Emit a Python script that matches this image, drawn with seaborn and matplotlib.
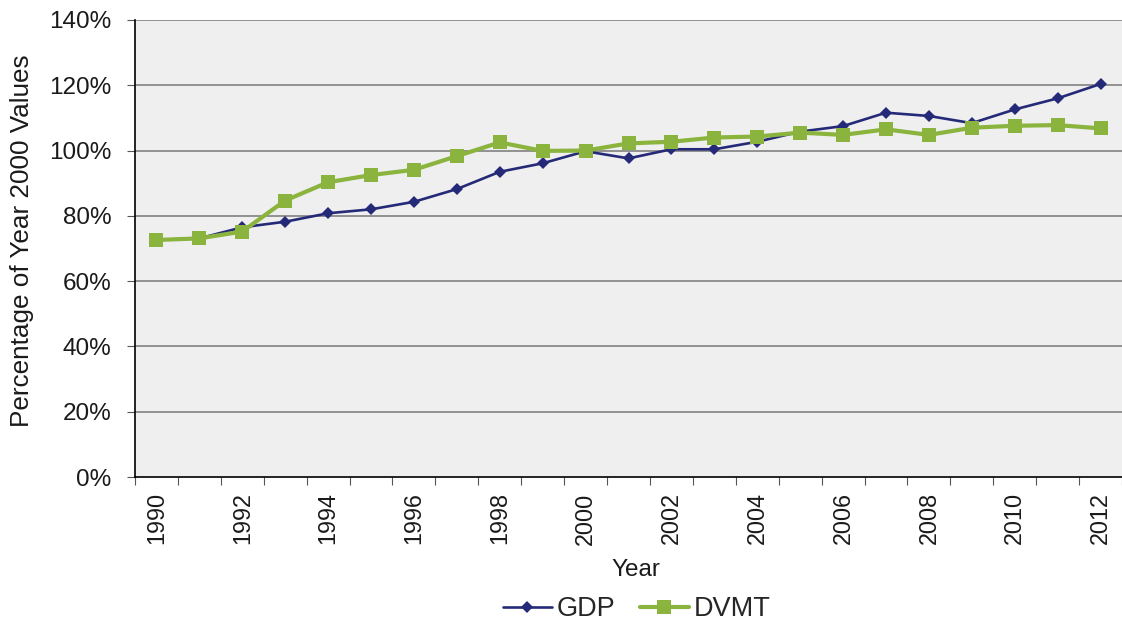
import matplotlib
matplotlib.use("Agg")
import matplotlib.pyplot as plt
import matplotlib.ticker as mticker
import numpy as np
import pandas as pd
import seaborn as sns

years = list(range(1990, 2013))
gdp = [72.6, 73.1, 76.5, 78.2, 80.8, 82.0, 84.3, 88.2, 93.5, 96.1, 99.8, 97.6,
       100.4, 100.4, 102.7, 105.8, 107.5, 111.6, 110.6, 108.4, 112.6, 116.0, 120.4]
dvmt = [72.6, 73.1, 75.2, 84.7, 90.3, 92.5, 94.1, 98.3, 102.5, 99.9, 100.0, 102.2,
        102.7, 104.0, 104.3, 105.5, 104.8, 106.5, 104.8, 107.0, 107.6, 107.8, 106.8]
series_names = ["GDP", "DVMT"]
y_ticks = [0, 20, 40, 60, 80, 100, 120, 140]

sns.set_theme(style="white")
plt.rcParams["font.family"] = ["Liberation Sans", "DejaVu Sans"]

df = pd.DataFrame({
    "Year": years * 2,
    "Value": gdp + dvmt,
    "Series": [series_names[0]] * len(years) + [series_names[1]] * len(years),
})

navy = "#252a78"
green = "#8ab43e"
text_col = "#1a1a1a"

fig = plt.figure(figsize=(11.22, 6.22), dpi=100)
ax = fig.add_axes([135 / 1122, 1 - 477 / 622, 1 - 135 / 1122, (477 - 20) / 622])
ax.set_facecolor("#efefef")

sns.lineplot(data=df, x="Year", y="Value", hue="Series", style="Series",
             palette={"GDP": navy, "DVMT": green},
             markers={"GDP": "D", "DVMT": "s"}, dashes=False,
             ax=ax, legend=False)
for ln, name in zip(ax.get_lines(), series_names):
    if name == "GDP":
        ln.set_linewidth(1.9)
        ln.set_markersize(6.5)
        ln.set_markeredgewidth(0)
        ln.set_zorder(3)
    else:
        ln.set_linewidth(3.0)
        ln.set_markersize(10.5)
        ln.set_markeredgewidth(0)
        ln.set_zorder(4)

ax.set_ylim(0, 140)
ax.set_xlim(years[0] - 0.5, years[0] - 0.5 + (1122 - 135) / 43.3)
ax.set_yticks(y_ticks)
ax.yaxis.set_major_formatter(mticker.FuncFormatter(lambda v, p: f"{int(v)}%"))
for yv in y_ticks[1:]:
    ax.axhline(yv, color="#8a8a8a", lw=1.3, zorder=1)

ax.set_xticks(years[::2])
ax.set_xticklabels([str(y) for y in years[::2]], rotation=90)
ax.set_xticks([y - 0.5 for y in years] + [years[-1] + 0.5], minor=True)
ax.tick_params(axis="x", which="major", length=0, pad=11, labelsize=16.8, colors=text_col)
ax.tick_params(axis="x", which="minor", length=6, width=0.8, color="#555555", direction="out")
ax.tick_params(axis="y", which="major", length=6, width=0.8, color="#555555",
               direction="out", labelsize=17.5, labelcolor=text_col, pad=11)
ax.tick_params(bottom=True, left=True, which="both")

for side in ["top", "right"]:
    ax.spines[side].set_visible(False)
for side in ["left", "bottom"]:
    ax.spines[side].set_color("#000000")
    ax.spines[side].set_linewidth(1.2)

ax.set_xlabel("Year", fontsize=17.5, color=text_col)
ax.xaxis.set_label_coords((636 - 135) / (1122 - 135), -(570 - 477) / (477 - 20), transform=ax.transAxes)
ax.xaxis.label.set_va("center")
ax.set_ylabel("Percentage of Year 2000 Values", fontsize=18.8, color=text_col)
ax.yaxis.set_label_coords(-(135 - 22) / (1122 - 135), (477 - 241) / (477 - 20), transform=ax.transAxes)
ax.yaxis.label.set_va("center")

handles = [
    plt.Line2D([], [], color=navy, lw=1.9, marker="D", markersize=6.5, markeredgewidth=0),
    plt.Line2D([], [], color=green, lw=3.0, marker="s", markersize=10.5, markeredgewidth=0),
]
fig.legend(handles, series_names, loc="center", bbox_to_anchor=(637 / 1122, 1 - 609 / 622),
           ncol=2, frameon=False, fontsize=19.5, handlelength=1.8, columnspacing=0.9,
           handletextpad=0.2, borderpad=0, borderaxespad=0)

fig.savefig("out.png", dpi=100)
